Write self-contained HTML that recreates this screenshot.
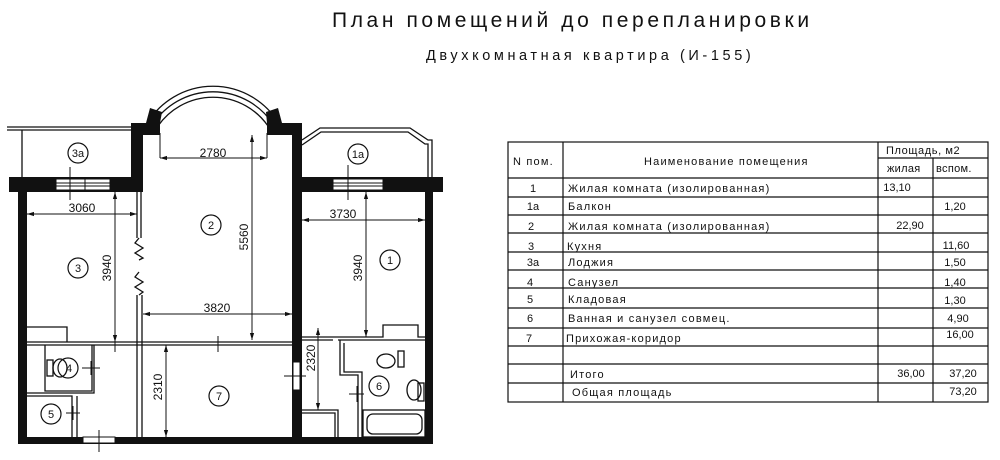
<!DOCTYPE html>
<html><head><meta charset="utf-8"><style>
html,body{margin:0;padding:0;background:#fff;}
svg{display:block;}
text{font-family:"Liberation Sans","DejaVu Sans",sans-serif;fill:#111;}
</style></head><body>
<svg width="1000" height="460" viewBox="0 0 1000 460" xmlns="http://www.w3.org/2000/svg">
<defs>
<marker id="a" viewBox="0 0 10 10" refX="10" refY="5" markerWidth="7" markerHeight="7" orient="auto-start-reverse"><path d="M0,2 L10,5 L0,8 z" fill="#111"/></marker>
</defs>
<text x="332" y="27" font-size="21" letter-spacing="3.6">План помещений до перепланировки</text>
<text x="426" y="60" font-size="14.5" letter-spacing="3.6">Двухкомнатная квартира (И-155)</text>

<g stroke="#111" fill="none" stroke-width="1.3">
<polyline points="7,127 131,127"/><polyline points="7,130 131,130"/>
<line x1="22" y1="130" x2="22" y2="177"/>
<polyline points="302,140 320,128 410,128 428,140 432,140 432,177"/>
<polyline points="302,145 321,132 408,132 425,144 428,144 428,177"/>
<path d="M148,122 A77,77 0 0 1 278,122"/>
<path d="M153,124 A72,72 0 0 1 273,124"/>
<path d="M158,126 A67,67 0 0 1 268,126"/>
</g>

<g fill="#111">
<rect x="9" y="177" width="132" height="15"/>
<rect x="302" y="177" width="141" height="15"/>
<rect x="18" y="177" width="9" height="267"/>
<rect x="18" y="437" width="415" height="7"/>
<rect x="425" y="177" width="8" height="267"/>
<rect x="131" y="123" width="12" height="69"/>
<rect x="131" y="123" width="29" height="12"/>
<rect x="292" y="123" width="10" height="314"/>
<rect x="267" y="123" width="35" height="12"/>
<polygon points="146,123 160,123 162,112 150,108"/>
<polygon points="266,112 278,108 282,123 267,123"/>
</g>
<g fill="#fff" stroke="#111" stroke-width="1">
<rect x="56" y="179" width="54" height="11"/>
<rect x="333" y="179" width="50" height="11"/>
<rect x="83" y="437" width="32" height="6"/>
<rect x="293" y="362" width="7" height="28"/>
</g>
<g stroke="#111" stroke-width="1">
<line x1="56" y1="183" x2="110" y2="183"/><line x1="56" y1="186" x2="110" y2="186"/>
<line x1="333" y1="183" x2="383" y2="183"/><line x1="333" y1="186" x2="383" y2="186"/>
<line x1="85" y1="179" x2="85" y2="190"/>
</g>

<g stroke="#111" fill="none" stroke-width="1.3">
<line x1="137" y1="192" x2="137" y2="238"/><line x1="141" y1="192" x2="141" y2="238"/>
<polyline points="139,238 135,243 143,248 135,253 143,258 139,260"/>
<polyline points="139,272 135,277 143,282 135,287 143,292 139,295"/>
<line x1="137" y1="295" x2="137" y2="437"/><line x1="142" y1="295" x2="142" y2="437"/>
<line x1="27" y1="342" x2="292" y2="342"/><line x1="27" y1="345" x2="292" y2="345"/>
<polyline points="27,327 67,327 67,342"/>
<polyline points="45,345 45,391 92,391 92,345"/>
<polyline points="27,393 94,393 94,345"/>
<polyline points="27,396 72,396 72,437"/><polyline points="77,396 77,437"/>
<polyline points="302,337 383,337 383,325 418,325 418,337 425,337"/>
<line x1="302" y1="340" x2="333" y2="340"/>
<polyline points="338,340 425,340"/>
<polyline points="340,340 340,375 358,375 358,437"/>
<polyline points="344,343 344,372 362,372 362,437"/>
<polyline points="302,410 338,410 338,437"/><polyline points="302,413 335,413 335,437"/>
<rect x="363" y="410" width="62" height="27"/>
<rect x="367" y="414" width="55" height="20" rx="6"/>
<ellipse cx="386" cy="361" rx="9" ry="7"/><rect x="398" y="351" width="6" height="16"/>
<ellipse cx="414" cy="390" rx="7" ry="10"/><rect x="418" y="383" width="6" height="18"/>
<ellipse cx="60" cy="368" rx="7" ry="9"/><rect x="47" y="360" width="6" height="16"/>
</g>

<g stroke="#111" stroke-width="1" fill="none">
<line x1="160" y1="158" x2="267" y2="158" marker-start="url(#a)" marker-end="url(#a)"/>
<line x1="160" y1="133" x2="160" y2="158"/><line x1="267" y1="133" x2="267" y2="158"/>
<line x1="252" y1="135" x2="252" y2="340" marker-start="url(#a)" marker-end="url(#a)"/>
<line x1="27" y1="214" x2="137" y2="214" marker-start="url(#a)" marker-end="url(#a)"/>
<line x1="115" y1="192" x2="115" y2="342" marker-start="url(#a)" marker-end="url(#a)"/>
<line x1="143" y1="314" x2="292" y2="314" marker-start="url(#a)" marker-end="url(#a)"/>
<line x1="302" y1="220" x2="425" y2="220" marker-start="url(#a)" marker-end="url(#a)"/>
<line x1="366" y1="192" x2="366" y2="337" marker-start="url(#a)" marker-end="url(#a)"/>
<line x1="166" y1="345" x2="166" y2="437" marker-start="url(#a)" marker-end="url(#a)"/>
<line x1="318" y1="328" x2="318" y2="410" marker-start="url(#a)" marker-end="url(#a)"/>
<line x1="70" y1="167" x2="70" y2="200"/><line x1="348" y1="165" x2="348" y2="200"/>
<line x1="115" y1="342" x2="115" y2="352"/>
<line x1="218" y1="336" x2="218" y2="352"/>
<line x1="82" y1="368" x2="100" y2="368"/><line x1="91" y1="361" x2="91" y2="375"/>
<line x1="66" y1="413" x2="80" y2="413"/><line x1="73" y1="406" x2="73" y2="420"/>
<line x1="99" y1="430" x2="99" y2="452"/>
<line x1="284" y1="376" x2="306" y2="376"/>
<line x1="349" y1="394" x2="364" y2="394"/><line x1="357" y1="386" x2="357" y2="402"/>
</g>
<g font-size="12" text-anchor="middle">
<text x="213" y="157">2780</text>
<text x="82" y="212">3060</text>
<text x="343" y="218">3730</text>
<text x="217" y="312">3820</text>
<text transform="translate(248,237) rotate(-90)">5560</text>
<text transform="translate(111,268) rotate(-90)">3940</text>
<text transform="translate(362,268) rotate(-90)">3940</text>
<text transform="translate(162,387) rotate(-90)">2310</text>
<text transform="translate(315,358) rotate(-90)">2320</text>
</g>
<g stroke="#111" fill="none" stroke-width="1.2">
<circle cx="78" cy="153" r="10"/><circle cx="358" cy="154" r="10"/>
<circle cx="211" cy="225" r="10"/><circle cx="78" cy="268" r="10"/>
<circle cx="390" cy="260" r="10"/><circle cx="68" cy="368" r="10"/>
<circle cx="51" cy="414" r="10"/><circle cx="219" cy="396" r="10"/>
<circle cx="379" cy="386" r="10"/>
</g>
<g font-size="11" text-anchor="middle">
<text x="78" y="157">3a</text><text x="358" y="158">1a</text>
<text x="211" y="229">2</text><text x="78" y="272">3</text>
<text x="390" y="264">1</text><text x="69" y="372">4</text>
<text x="51" y="418">5</text><text x="219" y="400">7</text>
<text x="379" y="390">6</text>
</g>

<g stroke="#111" stroke-width="1.2" fill="none">
<rect x="508" y="142" width="480" height="260"/>
<line x1="563" y1="142" x2="563" y2="402"/>
<line x1="878" y1="142" x2="878" y2="402"/>
<line x1="933" y1="158" x2="933" y2="402"/>
<line x1="878" y1="158" x2="988" y2="158"/>
<line x1="508" y1="178" x2="988" y2="178"/>
<line x1="508" y1="197" x2="988" y2="197"/>
<line x1="508" y1="215" x2="988" y2="215"/>
<line x1="508" y1="233" x2="988" y2="233"/>
<line x1="508" y1="252" x2="988" y2="252"/>
<line x1="508" y1="270" x2="988" y2="270"/>
<line x1="508" y1="288" x2="988" y2="288"/>
<line x1="508" y1="308" x2="988" y2="308"/>
<line x1="508" y1="328" x2="988" y2="328"/>
<line x1="508" y1="346" x2="988" y2="346"/>
<line x1="508" y1="364" x2="988" y2="364"/>
<line x1="508" y1="383" x2="988" y2="383"/>
</g>
<g font-size="11" letter-spacing="1.2">
<text x="513" y="165">N пом.</text>
<text x="644" y="165">Наименование помещения</text>
<text x="886" y="154" letter-spacing="0.6">Площадь,  м2</text>
<text x="887" y="172" letter-spacing="0.3">жилая</text>
<text x="936" y="172" letter-spacing="0.3">вспом.</text>
<text x="568" y="192">Жилая комната (изолированная)</text>
<text x="568" y="210">Балкон</text>
<text x="568" y="230">Жилая комната (изолированная)</text>
<text x="567" y="250">Кухня</text>
<text x="568" y="266">Лоджия</text>
<text x="568" y="286">Санузел</text>
<text x="568" y="303">Кладовая</text>
<text x="568" y="322">Ванная и санузел совмец.</text>
<text x="566" y="342">Прихожая-коридор</text>
<text x="570" y="378">Итого</text>
<text x="572" y="396">Общая площадь</text>
</g>
<g font-size="11" text-anchor="middle">
<text x="533" y="192">1</text><text x="533" y="210">1a</text>
<text x="531" y="230">2</text><text x="531" y="250">3</text>
<text x="533" y="266">3a</text><text x="530" y="286">4</text>
<text x="530" y="303">5</text><text x="530" y="322">6</text>
<text x="529" y="342">7</text>
<text x="897" y="191">13,10</text><text x="955" y="210">1,20</text>
<text x="910" y="229">22,90</text><text x="956" y="249">11,60</text>
<text x="955" y="266">1,50</text><text x="955" y="286">1,40</text>
<text x="955" y="304">1,30</text><text x="958" y="322">4,90</text>
<text x="960" y="338">16,00</text>
<text x="911" y="377">36,00</text><text x="963" y="377">37,20</text>
<text x="963" y="395">73,20</text>
</g>
</svg>
</body></html>
